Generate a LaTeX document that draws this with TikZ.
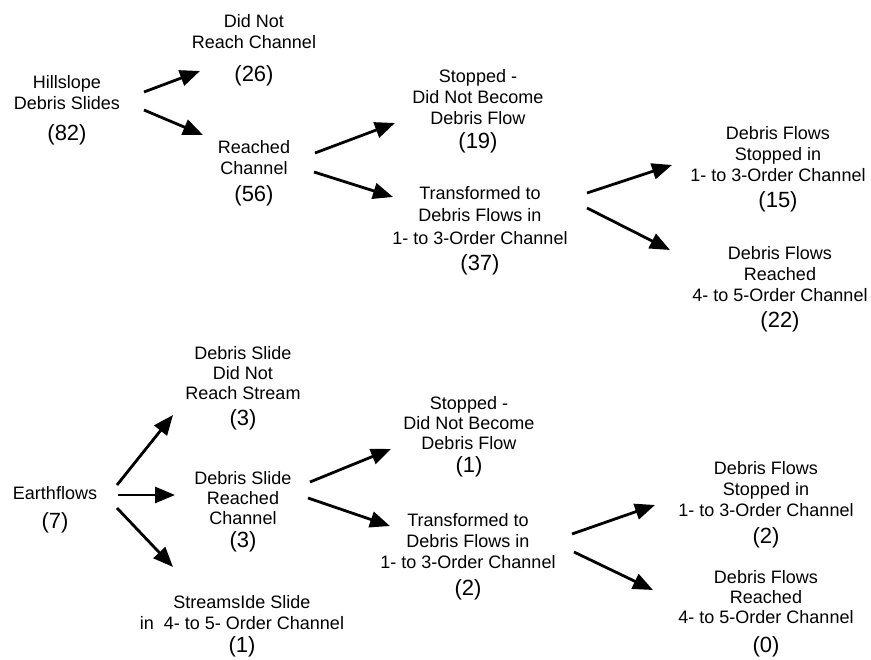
\documentclass[tikz,border=0pt]{standalone}
\usepackage{fontspec}
\setmainfont{Liberation Sans}
\usetikzlibrary{arrows.meta}

\newcommand{\tally}[1]{{\fontsize{22}{21}\selectfont(#1)}}

\begin{document}
\begin{tikzpicture}[x=1pt, y=-1pt,
    lbl/.style={align=center, anchor=north, inner sep=0pt,
      font=\fontsize{18}{21}\selectfont},
    arr/.style={line width=2.8pt, -{Triangle[length=20pt,width=16pt]}}]
  \useasboundingbox (0,0) rectangle (871,660);

  % Hillslope debris slides
  \node[lbl] (hs) at (67,75) {Hillslope\\Debris Slides\\[10.5pt]\tally{82}};
  \node[lbl] (dnr) at (254,14) {Did Not\\Reach Channel\\[12pt]\tally{26}};
  \node[lbl] (rc) at (254,140) {Reached\\Channel\\[6pt]\tally{56}};
  \node[lbl] (stopA) at (478,69) {Stopped -\\Did Not Become\\Debris Flow\\[3.5pt]\tally{19}};
  \node[lbl, font=\fontsize{18}{22.5}\selectfont] (trA) at (480,186)
    {Transformed to\\Debris Flows in\\1- to 3-Order Channel\\[4pt]\tally{37}};
  \node[lbl] (dfsA) at (778,126)
    {Debris Flows\\Stopped in\\1- to 3-Order Channel\\[5.5pt]\tally{15}};
  \node[lbl] (dfrA) at (780,246)
    {Debris Flows\\Reached\\4- to 5-Order Channel\\[5.5pt]\tally{22}};

  \draw[arr] ([shift={(77,17)}]hs.north) -- ([shift={(-54,57)}]dnr.north);
  \draw[arr] ([shift={(77,35)}]hs.north) -- ([shift={(-51,-5)}]rc.north);
  \draw[arr] ([shift={(61,13)}]rc.north) -- ([shift={(-83,54)}]stopA.north);
  \draw[arr] ([shift={(60,32)}]rc.north) -- ([shift={(-87,11)}]trA.north);
  \draw[arr] ([shift={(107,7)}]trA.north) -- ([shift={(-106,39)}]dfsA.north);
  \draw[arr] ([shift={(107,22)}]trA.north) -- ([shift={(-110,4)}]dfrA.north);

  % Earthflows
  \node[lbl] (ef) at (55,486) {Earthflows\\[8.5pt]\tally{7}};
  \node[lbl, font=\fontsize{18}{20}\selectfont] (dsn) at (243,346)
    {Debris Slide\\Did Not\\Reach Stream\\[6.5pt]\tally{3}};
  \node[lbl, font=\fontsize{18}{20}\selectfont] (dsr) at (243,471)
    {Debris Slide\\Reached\\Channel\\[3.5pt]\tally{3}};
  \node[lbl] (ss) at (242,595)
    {StreamsIde Slide\\in\ \ 4- to 5- Order Channel\\[2.5pt]\tally{1}};
  \node[lbl, font=\fontsize{18}{20}\selectfont] (stopB) at (469,396)
    {Stopped -\\Did Not Become\\Debris Flow\\[3.5pt]\tally{1}};
  \node[lbl] (trB) at (468,513)
    {Transformed to\\Debris Flows in\\1- to 3-Order Channel\\[6.5pt]\tally{2}};
  \node[lbl, font=\fontsize{18}{21}\selectfont] (dfsB) at (766,461)
    {Debris Flows\\Stopped in\\1- to 3-Order Channel\\[6pt]\tally{2}};
  \node[lbl, font=\fontsize{18}{20}\selectfont] (dfrB) at (766,570)
    {Debris Flows\\Reached\\4- to 5-Order Channel\\[9.5pt]\tally{0}};

  \draw[arr] ([shift={(62,-1)}]ef.north) -- ([shift={(-70,69)}]dsn.north);
  \draw[arr] ([shift={(63,9)}]ef.north) -- ([shift={(-68,24)}]dsr.north);
  \draw[arr] ([shift={(62,22)}]ef.north) -- ([shift={(-69,-28)}]ss.north);
  \draw[arr] ([shift={(67,11)}]dsr.north) -- ([shift={(-78,53)}]stopB.north);
  \draw[arr] ([shift={(65,27)}]dsr.north) -- ([shift={(-78,13)}]trB.north);
  \draw[arr] ([shift={(104,21)}]trB.north) -- ([shift={(-111,44)}]dfsB.north);
  \draw[arr] ([shift={(106,39)}]trB.north) -- ([shift={(-113,20)}]dfrB.north);
\end{tikzpicture}
\end{document}
